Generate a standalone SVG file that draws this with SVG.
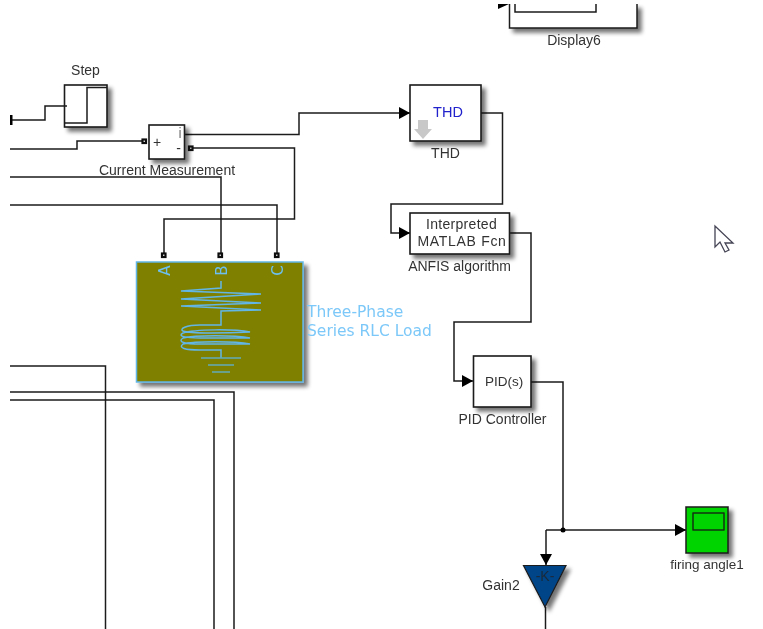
<svg xmlns="http://www.w3.org/2000/svg" width="763" height="629" viewBox="0 0 763 629">
<style>
.w{fill:none;stroke:#1a1a1a;stroke-width:1.5}
.b{fill:#fff;stroke:#1a1a1a;stroke-width:1.6}
.t{font-family:"Liberation Sans",Arial,sans-serif;font-size:14px;fill:#333}
.m{text-anchor:middle}
.l{fill:none;stroke:#62b6e6;stroke-width:1.5}
.a{font-family:"DejaVu Sans",sans-serif;font-size:15px;fill:#6cc0f0;text-anchor:middle}
.n{font-family:"DejaVu Sans",sans-serif;font-size:15.500px;fill:#7cc8f8}
.p{fill:#fff;stroke:#111;stroke-width:2.200}
</style>
<defs>
<marker id="ar" markerUnits="userSpaceOnUse" markerWidth="12" markerHeight="13" refX="11" refY="6" orient="auto"><path d="M0 0L11 6L0 12Z" fill="#000"/></marker>
<filter id="sh" x="-25%" y="-25%" width="160%" height="160%"><feGaussianBlur in="SourceAlpha" stdDeviation="2.300"/><feOffset dx="3.500" dy="3.500"/><feComponentTransfer><feFuncA type="linear" slope="0.55"/></feComponentTransfer><feMerge><feMergeNode/><feMergeNode in="SourceGraphic"/></feMerge></filter>
<filter id="soft" x="0" y="0" width="100%" height="100%"><feGaussianBlur stdDeviation="0.450"/></filter>
</defs>
<rect width="763" height="629" fill="#fff"/>
<g filter="url(#soft)">
<g id="connectors">
<path class="w" d="M12 120H45V106H66"/>
<path class="w" d="M10 149H77V141H144"/>
<path class="w" d="M190 148H294.500V219H164V255"/>
<path class="w" d="M10 177H221V255"/>
<path class="w" d="M10 205H277V255"/>
<path class="w" d="M184 134.500H299V113H410" marker-end="url(#ar)"/>
<path class="w" d="M481 113H502.500V204H391V233H410" marker-end="url(#ar)"/>
<path class="w" d="M510 233H531V322H454V381H473" marker-end="url(#ar)"/>
<path class="w" d="M531 382H563V530"/>
<path class="w" d="M546 530H686" marker-end="url(#ar)"/>
<path class="w" d="M546 530V565" marker-end="url(#ar)"/>
<path class="w" d="M545.500 607V629"/>
<path class="w" d="M10 366H105.500V629"/>
<path class="w" d="M10 392H234V629"/>
<path class="w" d="M10 400H214V629"/>
<circle cx="563" cy="530" r="2.500" fill="#000"/>
<path d="M11 115V125" stroke="#000" stroke-width="3" fill="none"/>
<path d="M498 9L509 4H498Z" fill="#000"/>
<rect class="p" x="142.500" y="139.500" width="3.500" height="3.500"/>
<rect class="p" x="189" y="146.500" width="3.500" height="3.500"/>
<rect class="p" x="162" y="253.500" width="3.500" height="3.500"/>
<rect class="p" x="218.500" y="253.500" width="3.500" height="3.500"/>
<rect class="p" x="275" y="253.500" width="3.500" height="3.500"/>
</g>
<g id="step">
<rect class="b" x="64.500" y="85" width="42.500" height="42" filter="url(#sh)"/>
<path class="w" d="M64.500 123H87V87.500H107M64.500 106H67"/>
<text class="t m" x="85.500" y="75">Step</text>
</g>
<g id="current-measurement">
<rect class="b" x="149" y="125" width="35.500" height="34" filter="url(#sh)"/>
<text class="t m" x="157" y="147">+</text>
<text class="t m" x="180" y="138" style="fill:#777">i</text>
<text class="t m" x="178.500" y="153">-</text>
<text class="t m" x="167" y="175">Current Measurement</text>
</g>
<g id="thd">
<rect class="b" x="410" y="85" width="71" height="56" filter="url(#sh)"/>
<text class="t m" x="448" y="117" style="fill:#2222cc;font-size:14.500px">THD</text>
<path d="M418 120H428V129H432L423 139L414 129H418Z" fill="#c8c8c8"/>
<text class="t m" x="445.500" y="158">THD</text>
</g>
<g id="anfis">
<rect class="b" x="410" y="213" width="99.500" height="41" filter="url(#sh)"/>
<text class="t m" x="461.500" y="229" style="letter-spacing:.3px">Interpreted</text>
<text class="t m" x="462" y="246" style="letter-spacing:.7px">MATLAB Fcn</text>
<text class="t m" x="459.500" y="271">ANFIS algorithm</text>
</g>
<g id="pid">
<rect class="b" x="473.500" y="356" width="57.500" height="51" filter="url(#sh)"/>
<text class="t m" x="504" y="386" style="font-size:13.500px">PID(s)</text>
<text class="t m" x="502.500" y="424">PID Controller</text>
</g>
<g id="scope">
<rect x="686" y="507" width="42" height="46" fill="#00d400" stroke="#1a1a1a" stroke-width="1.500" filter="url(#sh)"/>
<rect x="693" y="513" width="31" height="17" fill="none" stroke="#1a1a1a" stroke-width="1.300"/>
<text class="t m" x="707" y="569" style="font-size:13.500px">firing angle1</text>
</g>
<g id="gain2">
<path d="M523.500 565.500H566L545 607Z" fill="#004488" stroke="#1a1a1a" stroke-width="1.200" filter="url(#sh)"/>
<text class="t m" x="545" y="581" style="fill:#1a2a3a">-K-</text>
<text class="t m" x="501" y="590">Gain2</text>
</g>
<g id="rlc-load">
<rect x="136.500" y="262" width="166.500" height="120" fill="#808000" stroke="#62b6e6" stroke-width="1.500" filter="url(#sh)"/>
<text class="a" transform="translate(170 270.500) rotate(-90)">A</text>
<text class="a" transform="translate(227 270.500) rotate(-90)">B</text>
<text class="a" transform="translate(283 270.500) rotate(-90)">C</text>
<path class="l" d="M221 281V288L181 291L261 294L181 299L261 303L181 306L261 310L221 311V325H200C186 325 179 329 183 331C190 334 230 333 250 332C235 329 195 329 183 333C177 336 185 338 200 338H250C235 335 195 335 183 338C177 342 185 344 200 344H250C235 341 195 341 183 344C178 348 185 350 200 350H221V358"/>
<path class="l" d="M201 358H241M208 365H234M212 372H230" style="stroke:#62aabb"/>
<text class="n" x="307" y="317">Three-Phase</text>
<text class="n" x="307" y="336">Series RLC Load</text>
</g>
<g id="display6">
<path d="M509.500 4V28H637V4" fill="#fff" stroke="#1a1a1a" stroke-width="1.500" filter="url(#sh)"/>
<path class="w" d="M515 4V12H596V4"/>
<text class="t m" x="574" y="45">Display6</text>
</g>
<g id="cursor">
<path d="M715 226V247L720 242L725 252L729 250L725 243L733 243Z" fill="#fff" stroke="#445" stroke-width="1.300"/>
</g>
</g>
</svg>
